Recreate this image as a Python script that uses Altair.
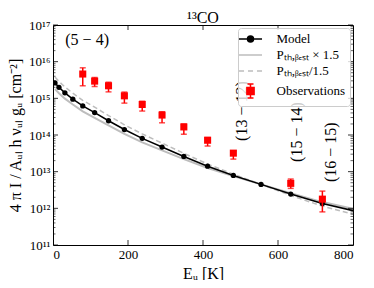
import altair as alt
import pandas as pd

# ---------------- data ----------------
E_u = [5.29, 15.87, 31.73, 52.89, 79.33, 111.05, 148.06, 190.36, 237.93,
       290.79, 348.91, 412.29, 480.93, 554.80, 633.98, 718.36, 807.91]
model = [2.63e15, 2.0e15, 1.41e15, 9.5e14, 6.2e14, 4.1e14, 2.45e14, 1.41e14,
         8.1e13, 4.7e13, 2.6e13, 1.41e13, 7.9e12, 4.5e12, 2.45e12, 1.35e12, 8.3e11]
p_times = [1.78e15, 1.38e15, 9.8e14, 6.8e14, 4.4e14, 2.95e14, 1.82e14, 1.07e14,
           6.3e13, 3.8e13, 2.19e13, 1.26e13, 7.6e12, 4.5e12, 2.57e12, 1.48e12, 9.3e11]
p_div = [3.8e15, 2.88e15, 2.04e15, 1.38e15, 8.8e14, 5.75e14, 3.39e14, 1.9e14,
         1.07e14, 6.0e13, 3.16e13, 1.62e13, 8.5e12, 4.5e12, 2.24e12, 1.15e12, 6.6e11]

obs_E = [79.33, 111.05, 148.06, 190.36, 237.93, 290.79, 348.91, 412.29, 480.93, 633.98, 718.36]
obs_val = [4.6e15, 2.95e15, 2.2e15, 1.17e15, 6.8e14, 3.5e14, 1.66e14, 7.2e13, 3.2e13, 4.8e12, 1.78e12]
obs_hi = [6.8e15, 3.7e15, 2.75e15, 1.48e15, 8.3e14, 4.3e14, 2.0e14, 8.5e13, 3.7e13, 6.3e12, 2.95e12]
obs_lo = [2.2e15, 2.1e15, 1.5e15, 7.4e14, 4.5e14, 2.15e14, 1.05e14, 5.0e13, 2.2e13, 3.5e12, 8.0e11]

ann_text = ["(5 − 4)", "(13 − 12)", "(15 − 14)", "(16 − 15)"]
ann_E = [91, 504, 650, 741]
ann_y = [3.9e16, 4.5e14, 1.2e14, 3.4e13]
ann_angle = [0, 270, 270, 270]

series_names = ["Model", "Pₜₕ,ᵦₑₛₜ × 1.5", "Pₜₕ,ᵦₑₛₜ/1.5", "Observations"]

x_ticks = [0, 200, 400, 600, 800]
y_ticks = [1e11, 1e12, 1e13, 1e14, 1e15, 1e16, 1e17]
y_tick_labels = ["10¹¹", "10¹²", "10¹³", "10¹⁴", "10¹⁵", "10¹⁶", "10¹⁷"]
y_minor = [m * 10.0 ** k for k in range(11, 17) for m in range(2, 10)]
x_inner_ticks = [200, 400, 600]

# ---------------- chart ----------------
W, H = 300, 220
FONT = "Liberation Serif"
xs = alt.Scale(domain=[0, 800], nice=False, zero=False)
ys = alt.Scale(type="log", domain=[1e11, 1e17], nice=False)

label_expr = "[" + ",".join("'%s'" % s for s in y_tick_labels) + "][round(log(datum.value)/LN10) - 11]"

x_axis = alt.Axis(values=x_ticks, title="Eᵤ [K]", ticks=False, domain=False, grid=False,
                  labelFont=FONT, labelFontSize=13, labelColor="black", labelPadding=3,
                  titleFont=FONT, titleFontSize=16, titleFontWeight="normal", titleColor="black",
                  titleY=28, titleBaseline="middle")
y_axis = alt.Axis(values=y_ticks, labelExpr=label_expr, ticks=False, domain=False, grid=False,
                  labelFont=FONT, labelFontSize=13, labelColor="black", labelPadding=3,
                  title="4 π I / Aᵤₗ h νᵤₗ gᵤ [cm⁻²]", titleFont=FONT, titleFontSize=16,
                  titleFontWeight="normal", titleColor="black", titleX=-38, titleBaseline="middle")


def X(field):
    return alt.X(field, scale=xs, axis=x_axis)


def Y(field):
    return alt.Y(field, scale=ys, axis=y_axis)


curves = pd.DataFrame({"E": E_u, "model": model, "ptimes": p_times, "pdiv": p_div})
obs = pd.DataFrame({"E": obs_E, "v": obs_val, "hi": obs_hi, "lo": obs_lo})
ann = pd.DataFrame({"E": ann_E, "y": ann_y, "t": ann_text, "a": ann_angle})

base = alt.Chart(curves)
grey_solid = base.mark_line(color="#bdbdbd", strokeWidth=2, clip=True).encode(x=X("E:Q"), y=Y("ptimes:Q"))
grey_dash = base.mark_line(color="#bdbdbd", strokeWidth=1.5, strokeDash=[5, 3], clip=True).encode(
    x=X("E:Q"), y=Y("pdiv:Q"))
model_line = base.mark_line(color="black", strokeWidth=1.5, clip=True).encode(x=X("E:Q"), y=Y("model:Q"))
model_pts = base.mark_circle(color="black", size=28, opacity=1, clip=True).encode(x=X("E:Q"), y=Y("model:Q"))

ob = alt.Chart(obs)
err = ob.mark_rule(color="red", strokeWidth=1.5).encode(x=X("E:Q"), y=Y("lo:Q"), y2="hi:Q")
cap_lo = ob.mark_tick(color="red", orient="horizontal", size=6, thickness=1.5).encode(x=X("E:Q"), y=Y("lo:Q"))
cap_hi = ob.mark_tick(color="red", orient="horizontal", size=6, thickness=1.5).encode(x=X("E:Q"), y=Y("hi:Q"))
sq = ob.mark_square(color="red", size=50, opacity=1).encode(x=X("E:Q"), y=Y("v:Q"))

texts = alt.Chart(ann).mark_text(font=FONT, fontSize=16, color="black", align="center",
                                 baseline="middle").encode(
    x=X("E:Q"), y=Y("y:Q"), text="t:N", angle=alt.Angle("a:Q", scale=None))

# inward ticks (matplotlib style)
ymaj = alt.Chart(pd.DataFrame({"v": y_ticks}))
ymin = alt.Chart(pd.DataFrame({"v": y_minor}))
xin = alt.Chart(pd.DataFrame({"v": x_inner_ticks}))
tick_layers = [
    ymaj.mark_rule(color="black", strokeWidth=0.8).encode(y=Y("v:Q"), x=alt.value(0), x2=alt.value(5)),
    ymaj.mark_rule(color="black", strokeWidth=0.8).encode(y=Y("v:Q"), x=alt.value(W - 5), x2=alt.value(W)),
    ymin.mark_rule(color="black", strokeWidth=0.6).encode(y=Y("v:Q"), x=alt.value(0), x2=alt.value(2.5)),
    ymin.mark_rule(color="black", strokeWidth=0.6).encode(y=Y("v:Q"), x=alt.value(W - 2.5), x2=alt.value(W)),
    xin.mark_rule(color="black", strokeWidth=0.8).encode(x=X("v:Q"), y=alt.value(H - 5), y2=alt.value(H)),
    xin.mark_rule(color="black", strokeWidth=0.8).encode(x=X("v:Q"), y=alt.value(0), y2=alt.value(5)),
]

# legend (custom symbols via shape paths)
sym_model = "M-1.92,0H1.92M-0.5,0A0.5,0.5 0 1,0 0.5,0A0.5,0.5 0 1,0 -0.5,0Z"
sym_solid = "M-1.92,0H1.92"
sym_dash = "M-1.92,0H-1.08M-0.42,0H0.42M1.08,0H1.92"
sym_obs = "M0,-1.17V1.17M-0.5,-1.17H0.5M-0.5,1.17H0.5M-0.6,-0.6H0.6V0.6H-0.6Z"
leg_df = pd.DataFrame({"series": series_names})
leg = alt.Chart(leg_df).mark_point(filled=True, opacity=0).encode(
    shape=alt.Shape("series:N", scale=alt.Scale(domain=series_names,
                                                range=[sym_model, sym_solid, sym_dash, sym_obs]),
                    legend=alt.Legend(title=None, orient="top-right", offset=3,
                                      fillColor="rgba(255,255,255,0.8)", strokeColor="#cccccc",
                                      cornerRadius=3, padding=4, symbolSize=144, symbolStrokeWidth=1.5,
                                      symbolOpacity=1, symbolOffset=1.5, labelOffset=19,
                                      labelFont=FONT, labelFontSize=13, labelColor="black",
                                      rowPadding=2)),
    fill=alt.Fill("series:N", scale=alt.Scale(domain=series_names,
                                              range=["black", "transparent", "transparent", "red"])),
    stroke=alt.Stroke("series:N", scale=alt.Scale(domain=series_names,
                                                  range=["black", "#bdbdbd", "#bdbdbd", "red"])),
)

chart = alt.layer(
    grey_solid, grey_dash, model_line, model_pts, err, cap_lo, cap_hi, sq, texts, *tick_layers, leg
).properties(
    width=W, height=H,
    title=alt.TitleParams("¹³CO", font=FONT, fontSize=16, fontWeight="normal", color="black",
                          offset=0, dy=7),
    padding={"left": 45, "top": 17, "right": 13, "bottom": 35},
    autosize="none",
).configure_view(stroke="black", strokeWidth=1)

chart.save("out.html", embed_options={"renderer": "svg", "actions": False})
